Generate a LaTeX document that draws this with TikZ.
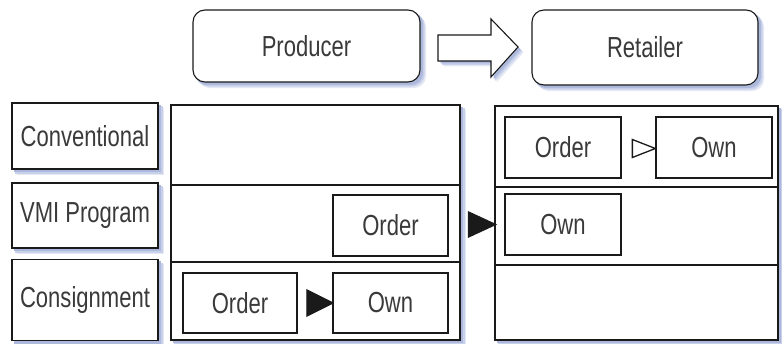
\documentclass[tikz,border=0pt]{standalone}
\usepackage{fontspec}
\setmainfont[FakeStretch=0.76]{Liberation Sans}
\usetikzlibrary{shapes.geometric,backgrounds}
\definecolor{ink}{HTML}{1A1A1A}
\definecolor{txt}{HTML}{3A3A3A}
\definecolor{shadeA}{HTML}{E4E8F4}
\definecolor{shadeB}{HTML}{C9D1EA}
\definecolor{shadeC}{HTML}{ADB9DC}
\begin{document}
\begin{tikzpicture}[x=1pt,y=-1pt,
  every node/.style={font=\fontsize{29}{32}\selectfont, text=txt},
  box/.style={draw=ink, line width=1.1pt, fill=white, inner sep=0pt},
  actor/.style={box, rounded corners=12pt},
  panel/.style={draw=ink, line width=1.1pt, fill=white, inner sep=0pt},
  rule/.style={draw=ink, line width=1.1pt},
  tri/.style={isosceles triangle, isosceles triangle stretches, inner sep=0pt, line width=1.3pt, draw=ink}
]
\useasboundingbox (0,0) rectangle (782,344);

% actors and the big transfer arrow
\node[actor, minimum width=227pt, minimum height=72pt] (prod) at (306.5,46) {Producer};
\node[actor, minimum width=226pt, minimum height=75pt] (ret) at (645,47.5) {Retailer};
\filldraw[draw=ink, fill=white, line width=1.1pt]
  (438,35) -- (491,35) -- (491,19) -- (518,47) -- (491,77) -- (491,61) -- (438,61) -- cycle;

% row labels
\node[box, minimum width=146pt, minimum height=66pt] (conv) at (85,136) {Conventional};
\node[box, minimum width=146pt, minimum height=65pt] (vmi) at (85,215.5) {VMI Program};
\node[box, minimum width=146pt, minimum height=81pt] (cons) at (85,300) {Consignment};

% producer and retailer panels
\node[panel, minimum width=289pt, minimum height=235pt] (pp) at (315.5,222.5) {};
\draw[rule] (pp.west |- 0,185) -- (pp.east |- 0,185);
\draw[rule] (pp.west |- 0,262) -- (pp.east |- 0,262);
\node[panel, minimum width=283pt, minimum height=234pt] (rp) at (636.5,223) {};
\draw[rule] (rp.west |- 0,187) -- (rp.east |- 0,187);
\draw[rule] (rp.west |- 0,265) -- (rp.east |- 0,265);

% conventional: retailer orders, then owns
\node[box, minimum width=116pt, minimum height=61pt] (co) at (563,147.5) {Order};
\node[box, minimum width=116pt, minimum height=61pt] (cw) at (714,147.5) {Own};
\node[tri, fill=white, minimum height=23pt, minimum width=18pt] (ct) at (638.5,148.5) {};

% VMI: producer orders, retailer owns
\node[box, minimum width=115pt, minimum height=61pt] (vo) at (390.5,225.5) {Order};
\node[box, minimum width=116pt, minimum height=61pt] (vw) at (563,224.5) {Own};
\node[tri, fill=ink, minimum height=27pt, minimum width=25pt] (vt) at (476.5,224.5) {};

% consignment: producer orders and owns
\node[box, minimum width=114pt, minimum height=60pt] (so) at (240,303) {Order};
\node[box, minimum width=115pt, minimum height=60pt] (sw) at (390.5,303) {Own};
\node[tri, fill=ink, minimum height=26pt, minimum width=26pt] (st) at (315,303) {};

% soft blue shadows, offset down and right, three graded layers behind everything
\begin{scope}[on background layer]
  \foreach \d/\c in {5.5/shadeA, 4/shadeB, 2.5/shadeC} {
    \foreach \n in {conv,vmi,cons,pp,rp,co,cw,vo,vw,so,sw}
      \fill[\c] ([shift={(\d,\d)}]\n.north west) rectangle ([shift={(\d,\d)}]\n.south east);
    \foreach \n in {prod,ret}
      \fill[\c, rounded corners=12pt] ([shift={(\d,\d)}]\n.north west) rectangle ([shift={(\d,\d)}]\n.south east);
    \fill[\c, shift={(\d,\d)}] (438,35) -- (491,35) -- (491,19) -- (518,47) -- (491,77) -- (491,61) -- (438,61) -- cycle;
  }
\end{scope}
\end{tikzpicture}
\end{document}
